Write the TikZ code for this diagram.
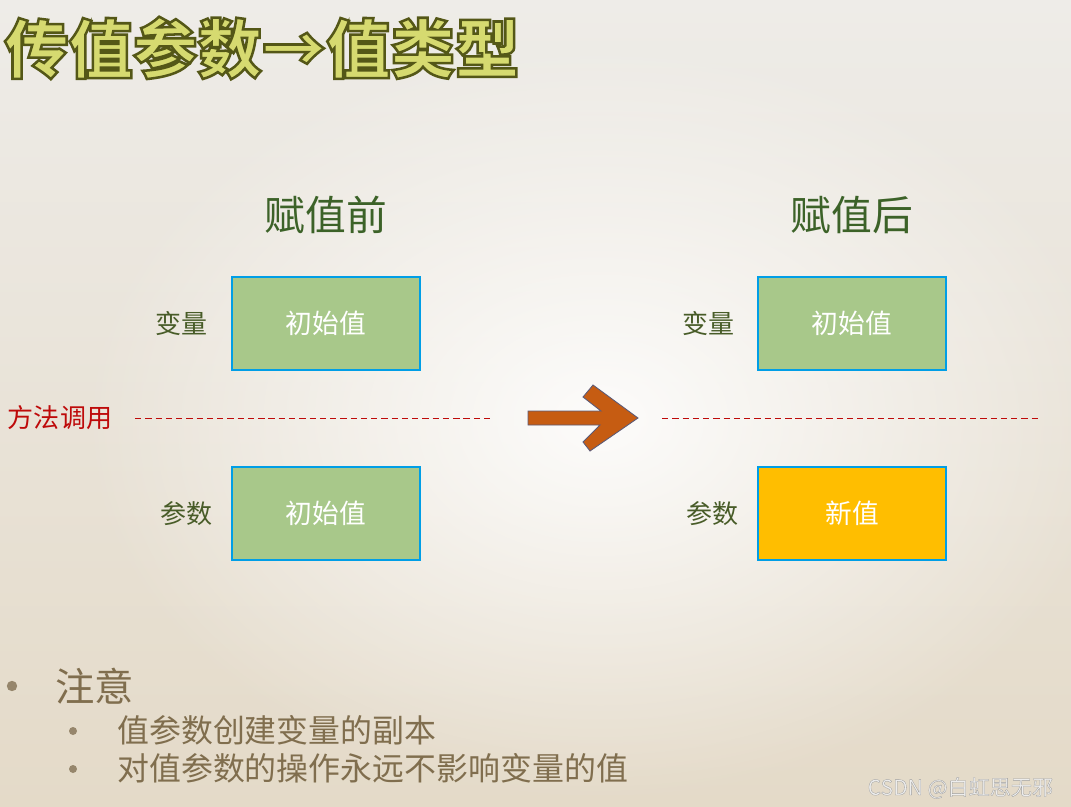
\documentclass[tikz,border=0pt]{standalone}
\usepackage{fontspec}
\setmainfont{Noto Sans CJK SC}
\usetikzlibrary{positioning, fadings}
\definecolor{cBox}{RGB}{168,200,138}
\definecolor{cEdge}{RGB}{0,158,230}
\definecolor{cNew}{RGB}{255,190,0}
\definecolor{cHead}{RGB}{60,98,40}
\definecolor{cLabel}{RGB}{72,92,40}
\definecolor{cCall}{RGB}{190,10,10}
\definecolor{cArrow}{RGB}{198,92,18}
\definecolor{cArrowEdge}{RGB}{90,90,120}
\definecolor{cNote}{RGB}{128,110,78}
\definecolor{cDot}{RGB}{150,134,108}
\definecolor{cTitle}{RGB}{214,218,112}
\definecolor{cBgTop}{RGB}{238,236,232}
\definecolor{cBgBot}{RGB}{228,218,200}
\tikzfading[name=glow, inner color=transparent!0, outer color=transparent!100]
% outlined title text: fill + stroke render mode
\newcommand{\outlined}[1]{\special{pdf:literal direct 2 Tr 1.8 w 0.33 0.34 0.09 RG}#1\special{pdf:literal direct 0 Tr 0.4 w}}
\tikzset{
	valbox/.style   ={rectangle, draw=cEdge, line width=1.8pt, fill=cBox, minimum width=4.7cm, minimum height=2.32cm, text=white, font=\fontsize{19}{22}\selectfont},
	sidelabel/.style={text=cLabel, font=\fontsize{18.5}{22}\selectfont},
	heading/.style  ={text=cHead, font=\fontsize{29}{34}\selectfont},
	titletext/.style={anchor=west, inner sep=0pt, text=cTitle, font=\bfseries\fontsize{45.8}{52}\selectfont},
	callline/.style ={draw=cCall, line width=0.7pt, dash pattern=on 4.5pt off 2.8pt},
	bigarrow/.style ={fill=cArrow, draw=cArrowEdge, line width=0.6pt, line join=miter},
	bulletdot/.style={circle, fill=cDot, inner sep=0pt},
	notetext/.style ={anchor=west, text=cNote, inner sep=0pt},
}
\begin{document}
\begin{tikzpicture}[x=0.025cm, y=-0.025cm]
	\useasboundingbox (0,0) rectangle (1071,807);
	\shade[top color=cBgTop, bottom color=cBgBot] (0,0) rectangle (1071,807);
	\fill[white, path fading=glow, opacity=0.9] (600,420) ellipse (520 and 380);
	% title
	\node[titletext] (title) at (4,48) {\outlined{传值参数→值类型}};
	% before / after
	\node[valbox] (varA) at (326,323.5) {初始值};
	\node[valbox] (parA) at (326,513.5) {初始值};
	\node[valbox] (varB) at (852,323.5) {初始值};
	\node[valbox, fill=cNew] (parB) at (852,513.5) {新值};
	\node[heading, above=0.92cm of varA] (before) {赋值前};
	\node[heading, above=0.92cm of varB] (after) {赋值后};
	\node[sidelabel, left=0.46cm of varA] (varlabA) {变量};
	\node[sidelabel, left=0.34cm of parA] (parlabA) {参数};
	\node[sidelabel, left=0.42cm of varB] (varlabB) {变量};
	\node[sidelabel, left=0.34cm of parB] (parlabB) {参数};
	% method call
	\node[text=cCall, font=\fontsize{18.5}{22}\selectfont] (call) at (60,418) {方法调用};
	\coordinate (lineA1) at (135,418);
	\coordinate (lineA2) at (493,418);
	\coordinate (lineB1) at (662,418);
	\coordinate (lineB2) at (1040,418);
	\draw[callline] (lineA1) -- (lineA2);
	\draw[callline] (lineB1) -- (lineB2);
	\draw[bigarrow] (528,411) -- (601,411) -- (583,397) -- (593,385) -- (638,418)
		-- (590,451) -- (583,442) -- (600,425) -- (528,425) -- cycle;
	% notes
	\node[bulletdot, minimum size=0.26cm] (dot1) at (12,686) {};
	\node[notetext, font=\fontsize{28}{32}\selectfont] (note1) at (55,686) {注意};
	\node[bulletdot, minimum size=0.2cm] (dot2) at (73,731) {};
	\node[notetext, font=\fontsize{22.7}{26}\selectfont] (note2) at (117,730) {值参数创建变量的副本};
	\node[bulletdot, minimum size=0.2cm] (dot3) at (73,769) {};
	\node[notetext, font=\fontsize{22.7}{26}\selectfont] (note3) at (117,768) {对值参数的操作永远不影响变量的值};
	% watermark
	\node[anchor=east, text=white!93!black, font=\fontsize{15}{18}\selectfont] (mark) at (1058,788) {\special{pdf:literal direct 2 Tr 0.22 w 0.62 0.62 0.62 RG}CSDN @白虹思无邪\special{pdf:literal direct 0 Tr 0.4 w}};
\end{tikzpicture}
\end{document}
